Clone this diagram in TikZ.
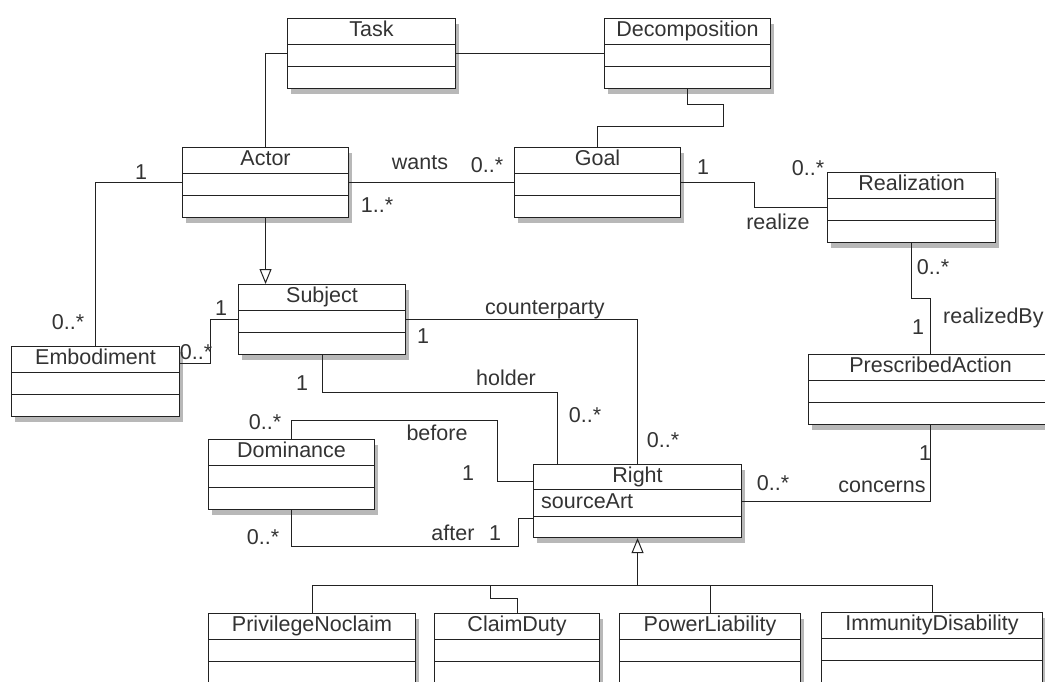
\documentclass[tikz,border=0pt]{standalone}
\usepackage{fontspec}
\setmainfont{Liberation Sans}
\usepackage{tikz}
\usetikzlibrary{arrows.meta,shadows}

\definecolor{umlline}{HTML}{222222}
\definecolor{umltext}{HTML}{333333}

\tikzset{
  compartments/.style 2 args={path picture={
      \draw[umlline,line width=1pt] ([yshift=-#1]path picture bounding box.north west) -- ([yshift=-#1]path picture bounding box.north east);
      \draw[umlline,line width=1pt] ([yshift=-#2]path picture bounding box.north west) -- ([yshift=-#2]path picture bounding box.north east);}},
  umlclass/.style={draw=umlline, line width=1.1pt, fill=white, anchor=north west,
    inner sep=0pt, minimum width=#1, text height=18pt, text depth=52pt, text=umltext,
    drop shadow={shadow xshift=3pt, shadow yshift=-5pt, opacity=.35, fill=black!80},
    compartments={26pt}{48pt}},
  mult/.style={text=umltext, inner sep=1pt},
  assoc/.style={draw=umlline, line width=1pt},
  inherit/.style={assoc, -{Triangle[open, length=15pt, width=12pt]}},
}

\begin{document}
\begin{tikzpicture}[x=1pt, y=-1pt, font=\fontsize{21.5}{24}\selectfont]
  \useasboundingbox (0,0) rectangle (1045,681);

  \node[umlclass=168pt] (task) at (287,18) {Task};
  \node[umlclass=166pt] (decomp) at (604,18) {Decomposition};
  \node[umlclass=166pt] (actor) at (182,147) {Actor};
  \node[umlclass=166pt] (goal) at (514,147) {Goal};
  \node[umlclass=168pt] (realization) at (827,172) {Realization};
  \node[umlclass=167pt] (subject) at (238,284) {Subject};
  \node[umlclass=168pt] (embodiment) at (11,346) {Embodiment};
  \node[umlclass=166pt] (dominance) at (208,439) {Dominance};
  \node[umlclass=208pt, text depth=55pt, compartments={25pt}{52pt}] (right) at (533,464) {Right};
  \node[anchor=west, text=umltext, inner sep=0pt] (sourceart) at (541,501) {sourceArt};
  \node[umlclass=244pt] (prescribed) at (808,354) {PrescribedAction};
  \node[umlclass=207pt, text depth=70pt] (privilege) at (208,613) {PrivilegeNoclaim};
  \node[umlclass=165pt, text depth=70pt] (claimduty) at (434,613) {ClaimDuty};
  \node[umlclass=181pt, text depth=70pt] (power) at (619,613) {PowerLiability};
  \node[umlclass=221pt, text depth=70pt] (immunity) at (821,612) {ImmunityDisability};

  \draw[assoc] (task.west) -| (actor.north);
  \draw[assoc] (task.east) -- (decomp.west);
  \draw[assoc] (decomp.south) -- ++(0,15) -- ++(36,0) -- ++(0,22) -| (goal.north);
  \draw[assoc] (actor.east) -- (goal.west);
  \draw[assoc] (goal.east) -- ++(73,0) |- (realization.west);
  \draw[inherit] (actor.south) -- (actor.south |- subject.north);
  \draw[assoc] (actor.west) -| (embodiment.north);
  \draw[assoc] (subject.west) -- ++(-28,0) |- ([yshift=-17pt]embodiment.north east);
  \draw[assoc] (subject.east) -| (right.north);
  \draw[assoc] (subject.south) -- ++(0,37) -| ([xshift=-80pt]right.north);
  \draw[assoc] (dominance.north) -- ++(0,-19) -- ++(206,0) |- ([yshift=-17pt]right.north west);
  \draw[assoc] (dominance.south) -- ++(0,36) -- ++(227,0) |- ([yshift=-54pt]right.north west);
  \draw[assoc] (right.east) -| (prescribed.south);
  \draw[assoc] (realization.south) -- ++(0,55) -| (prescribed.north);
  \coordinate (bus) at ([yshift=-47pt]right.south);
  \draw[inherit] (bus) -- (right.south);
  \draw[assoc] (privilege.north) |- (bus) -| (immunity.north);
  \draw[assoc] (power.north) -- (power.north |- bus);
  \draw[assoc] (claimduty.north) -- ++(0,-15) -- ++(-27,0) |- (bus);

  \node[mult] (m-wants) at (420,163) {wants};
  \node[mult] (m-goal) at (487,165) {0..*};
  \node[mult] (m-actor) at (377,205) {1..*};
  \node[mult] (m-actemb) at (141,172) {1};
  \node[mult] (m-embtop) at (68,322) {0..*};
  \node[mult] (m-subjleft) at (221,308) {1};
  \node[mult] (m-embright) at (196,352) {0..*};
  \node[mult] (m-counter) at (545,310) {counterparty};
  \node[mult] (m-subjright) at (423,336) {1};
  \node[mult] (m-goalright) at (703,167) {1};
  \node[mult] (m-real) at (808,168) {0..*};
  \node[mult] (m-realize) at (778,222) {realize};
  \node[mult] (m-realbot) at (933,267) {0..*};
  \node[mult] (m-prestop) at (918,327) {1};
  \node[mult, anchor=west] (m-realizedby) at (942,318) {realizedBy};
  \node[mult] (m-subjbot) at (302,383) {1};
  \node[mult] (m-holder) at (506,378) {holder};
  \node[mult] (m-holdright) at (585,415) {0..*};
  \node[mult] (m-counterright) at (663,440) {0..*};
  \node[mult] (m-domtop) at (265,422) {0..*};
  \node[mult] (m-before) at (437,433) {before};
  \node[mult] (m-beforeone) at (468,473) {1};
  \node[mult] (m-after) at (453,533) {after};
  \node[mult] (m-afterone) at (495,533) {1};
  \node[mult] (m-dombot) at (263,537) {0..*};
  \node[mult] (m-concright) at (773,483) {0..*};
  \node[mult] (m-concerns) at (882,487) {concerns};
  \node[mult] (m-concone) at (925,453) {1};
\end{tikzpicture}
\end{document}
